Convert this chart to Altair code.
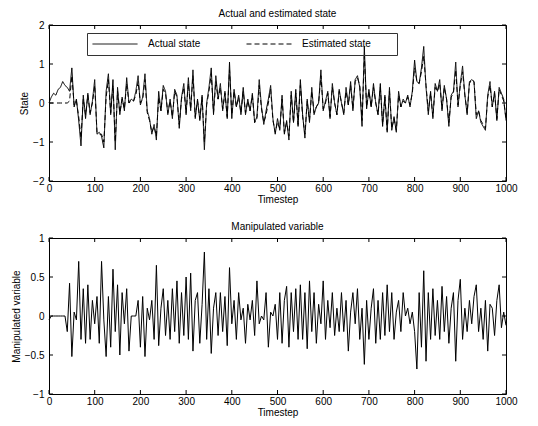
import altair as alt
import pandas as pd

# ---------------- data (every 5 timesteps) ----------------
timestep = list(range(0, 1001, 5))

actual_state = [
    0.0, 0.15, 0.25, 0.2, 0.35, 0.4, 0.55, 0.45, 0.4, 0.3,
    0.9, -0.1, 0.1, -0.45, -1.1, 0.2, -0.4, 0.25, -0.3, 0.05,
    0.6, -0.8, -0.75, -0.85, -1.15, 0.3, 0.75, -0.3, 0.6, -1.2,
    0.4, -0.3, 0.15, -0.2, 0.65, 0.0, 0.1, 0.05, 0.3, 0.7,
    -0.05, 0.15, 0.75, -0.2, -0.4, -0.8, -0.55, -0.95, 0.3, -0.2,
    0.45, 0.3, -0.3, 0.1, -0.4, 0.35, 0.2, -0.65, 0.15, 0.5,
    -0.3, 0.65, -0.2, 0.85, -0.4, 0.1, -0.45, 0.2, -1.2, 0.0,
    0.4, 0.9, -0.3, 0.7, 0.1, 0.5, -0.2, 0.3, -0.4, 1.05,
    -0.4, 0.35, -0.1, 0.2, -0.3, 0.4, -0.3, 0.1, -0.2, 0.25,
    -0.5, -0.35, 0.6, -0.1, -0.55, -0.2, 0.1, 0.45, -0.4, -0.8,
    -0.4, -0.7, 0.2, -0.8, -0.45, -0.95, 0.3, -0.5, 0.35, -0.6,
    0.6, -0.3, -0.9, 0.1, -0.5, 0.4, -0.3, -0.1, 0.0, 0.85,
    -0.2, 0.05, 0.3, -0.4, 0.5, 0.0, -0.3, 0.35, 0.0, -0.3,
    0.4, -0.05, 0.55, -0.2, 0.6, 0.7, 0.4, -0.6, 1.45, -0.15,
    0.35, -0.1, 0.5, 0.0, -0.3, 0.5, -0.6, 0.2, -0.75, 0.4,
    -0.7, -0.35, -0.75, 0.3, -0.1, 0.1, 0.0, 0.2, -0.1, 0.3,
    1.1, 0.55, 0.5, 0.9, 1.45, 0.4, -0.3, 0.3, -0.4, 0.5,
    0.3, 0.6, -0.2, 0.45, 0.1, -0.6, 0.2, 0.3, 1.05, -0.1,
    0.5, 0.95, 0.2, -0.3, 0.55, 0.6, 0.55, -0.4, -0.2, -0.5,
    -0.6, -0.7, 0.2, 0.55, -0.1, 0.3, -0.45, 0.4, 0.25, 0.1,
    -0.45,
]

estimated_state = [
    0.0, 0.0, 0.0, 0.0, 0.0, 0.0, 0.0, 0.0, 0.0, 0.05,
    0.7, -0.05, 0.05, -0.35, -0.9, 0.1, -0.3, 0.2, -0.25, 0.0,
    0.45, -0.75, -0.8, -0.8, -1.0, 0.15, 0.6, -0.25, 0.45, -1.0,
    0.3, -0.25, 0.1, -0.15, 0.5, 0.0, 0.05, 0.05, 0.2, 0.55,
    0.0, 0.1, 0.6, -0.25, -0.45, -0.75, -0.6, -0.85, 0.15, -0.2,
    0.35, 0.25, -0.25, 0.05, -0.35, 0.3, 0.15, -0.55, 0.1, 0.4,
    -0.25, 0.5, -0.15, 0.7, -0.35, 0.05, -0.4, 0.15, -1.0, -0.05,
    0.3, 0.75, -0.25, 0.55, 0.1, 0.4, -0.15, 0.25, -0.35, 0.85,
    -0.3, 0.3, -0.1, 0.15, -0.25, 0.3, -0.25, 0.05, -0.2, 0.2,
    -0.5, -0.4, 0.45, -0.15, -0.5, -0.3, 0.0, 0.35, -0.45, -0.75,
    -0.5, -0.65, 0.1, -0.75, -0.5, -0.85, 0.2, -0.5, 0.25, -0.55,
    0.45, -0.35, -0.8, 0.05, -0.45, 0.3, -0.25, -0.1, 0.0, 0.7,
    -0.15, 0.0, 0.25, -0.35, 0.4, 0.0, -0.3, 0.3, 0.0, -0.25,
    0.3, -0.05, 0.45, -0.15, 0.55, 0.65, 0.45, -0.45, 1.2, -0.1,
    0.3, -0.1, 0.4, 0.0, -0.3, 0.4, -0.55, 0.15, -0.7, 0.3,
    -0.65, -0.4, -0.7, 0.2, -0.1, 0.05, 0.0, 0.15, -0.05, 0.25,
    0.9, 0.55, 0.5, 0.8, 1.2, 0.45, -0.2, 0.25, -0.35, 0.4,
    0.3, 0.5, -0.15, 0.4, 0.1, -0.5, 0.15, 0.25, 0.85, -0.05,
    0.45, 0.8, 0.2, -0.25, 0.5, 0.6, 0.55, -0.3, -0.2, -0.45,
    -0.55, -0.65, 0.15, 0.45, -0.1, 0.25, -0.4, 0.35, 0.2, 0.05,
    -0.4,
]

manipulated = [
    -0.05, 0.0, 0.0, 0.0, 0.0, 0.0, 0.0, 0.0, -0.2, 0.42,
    -0.52, 0.05, -0.05, 0.7, -0.3, 0.35, -0.35, 0.4, -0.3, 0.2,
    -0.1, 0.25, -0.35, 0.7, -0.05, -0.52, 0.25, -0.4, 0.6, -0.2,
    0.4, -0.5, 0.3, -0.1, 0.35, -0.45, 0.0, 0.0, 0.0, 0.2,
    -0.4, 0.25, -0.52, 0.1, -0.05, 0.2, -0.3, 0.65, -0.38, 0.1,
    0.35, -0.25, 0.2, -0.3, 0.35, -0.2, 0.45, -0.35, 0.3, -0.25,
    0.5, -0.3, 0.55, -0.45, 0.2, 0.3, -0.35, 0.15, 0.82, -0.3,
    0.35, -0.48, 0.1, 0.3, -0.25, 0.3, -0.2, 0.25, -0.38, 0.62,
    -0.1, 0.2, -0.3, 0.3, -0.05, 0.1, -0.35, 0.15, -0.05, 0.2,
    -0.25, 0.45, -0.1, 0.0, -0.05, 0.3, -0.4, 0.05, 0.0, 0.15,
    -0.3, 0.3, -0.35, 0.2, 0.38, -0.4, 0.3, -0.2, 0.35, -0.3,
    0.4, -0.3, 0.3, -0.42, 0.45, -0.2, 0.3, -0.35, 0.15, -0.1,
    0.45, -0.3, 0.2, -0.15, 0.3, -0.25, 0.1, -0.2, 0.3, -0.2,
    0.2, -0.45, 0.05, 0.3, -0.1, 0.35, -0.3, 0.1, -0.62, 0.2,
    -0.3, 0.1, 0.35, -0.35, 0.2, -0.3, 0.3, -0.25, 0.4, -0.2,
    0.3, -0.3, 0.05, 0.2, -0.2, 0.3, 0.0, 0.1, -0.1, 0.05,
    -0.2, -0.68, 0.3, -0.4, 0.58, -0.58, 0.3, -0.3, 0.35, -0.25,
    0.2, -0.3, 0.38, -0.2, 0.25, -0.35, 0.1, 0.3, -0.58, 0.2,
    0.47, -0.3, 0.1, -0.2, 0.2, -0.1, 0.25, 0.4, -0.2, 0.1,
    -0.3, 0.2, -0.45, 0.15, 0.1, -0.25, 0.2, 0.4, -0.15, 0.05,
    -0.12,
]

series_names = ["Actual state", "Estimated state"]
x_ticks = [0, 100, 200, 300, 400, 500, 600, 700, 800, 900, 1000]
state_ticks = [-2, -1, 0, 1, 2]
manip_ticks = [-1, -0.5, 0, 0.5, 1]

assert len(actual_state) == len(timestep) == len(estimated_state) == len(manipulated)

# ---------------- layout constants ----------------
W, H = 457, 156
TICK = 4
FONT = "Liberation Sans"

state_df = pd.concat([
    pd.DataFrame({"t": timestep, "v": actual_state, "series": series_names[0]}),
    pd.DataFrame({"t": timestep, "v": estimated_state, "series": series_names[1]}),
])
manip_df = pd.DataFrame({"t": timestep, "v": manipulated})
xt_df = pd.DataFrame({"t": x_ticks})


def x_enc():
    return alt.X(
        "t:Q",
        scale=alt.Scale(domain=[0, 1000], nice=False, zero=False),
        axis=alt.Axis(values=x_ticks, title="Timestep", format="d", labelFlush=False,
                      labelPadding=2, titlePadding=1),
    )


def y_enc(domain, values, title):
    return alt.Y(
        "v:Q",
        scale=alt.Scale(domain=domain, nice=False, zero=False),
        axis=alt.Axis(values=values, title=title, format="~g", labelFlush=False,
                      labelPadding=5, titlePadding=3),
    )


def inner_ticks(domain, yvalues, title):
    yt_df = pd.DataFrame({"v": yvalues})
    rule = dict(color="black", strokeWidth=1)
    xb = alt.Chart(xt_df).mark_rule(**rule).encode(
        x=x_enc(), y=alt.value(H - TICK), y2=alt.value(H))
    xtp = alt.Chart(xt_df).mark_rule(**rule).encode(
        x=x_enc(), y=alt.value(0), y2=alt.value(TICK))
    yl = alt.Chart(yt_df).mark_rule(**rule).encode(
        y=y_enc(domain, yvalues, title), x=alt.value(0), x2=alt.value(TICK))
    yr = alt.Chart(yt_df).mark_rule(**rule).encode(
        y=y_enc(domain, yvalues, title), x=alt.value(W - TICK), x2=alt.value(W))
    return [xb, xtp, yl, yr]


state_lines = alt.Chart(state_df).mark_line(color="black", strokeWidth=1).encode(
    x=x_enc(),
    y=y_enc([-2, 2], state_ticks, "State"),
    strokeDash=alt.StrokeDash(
        "series:N",
        scale=alt.Scale(domain=series_names, range=[[1, 0], [5, 3]]),
        legend=alt.Legend(
            title="\u00a0", titleOrient="right", titlePadding=21,
            orient="none", legendX=38, legendY=8, direction="horizontal",
            symbolType="stroke", symbolSize=2025, symbolStrokeWidth=1,
            symbolStrokeColor="black", clipHeight=12, labelOffset=10,
            columnPadding=45, padding=5, strokeColor="#333333",
            labelFontSize=10, labelColor="black", labelFont=FONT,
        ),
    ),
)

top = alt.layer(state_lines, *inner_ticks([-2, 2], state_ticks, "State")).properties(
    width=W, height=H,
    title=alt.TitleParams("Actual and estimated state", fontSize=10,
                          fontWeight="normal", offset=1, font=FONT),
)

manip_line = alt.Chart(manip_df).mark_line(color="black", strokeWidth=1).encode(
    x=x_enc(),
    y=y_enc([-1, 1], manip_ticks, "Manipulated variable"),
)

bottom = alt.layer(manip_line, *inner_ticks([-1, 1], manip_ticks, "Manipulated variable")).properties(
    width=W, height=H,
    title=alt.TitleParams("Manipulated variable", fontSize=10,
                          fontWeight="normal", offset=1, font=FONT),
)

chart = alt.vconcat(top, bottom, spacing=16).properties(
    padding={"left": 2, "top": 0, "right": 5, "bottom": 2}
).configure(font=FONT).configure_view(
    stroke="black", strokeWidth=1
).configure_axis(
    grid=False, ticks=False, domain=False,
    labelFontSize=10, titleFontSize=10, titleFontWeight="normal",
    labelColor="black", titleColor="black", labelFont=FONT, titleFont=FONT,
)

chart.save("out.html", embed_options={"renderer": "svg", "actions": False})
